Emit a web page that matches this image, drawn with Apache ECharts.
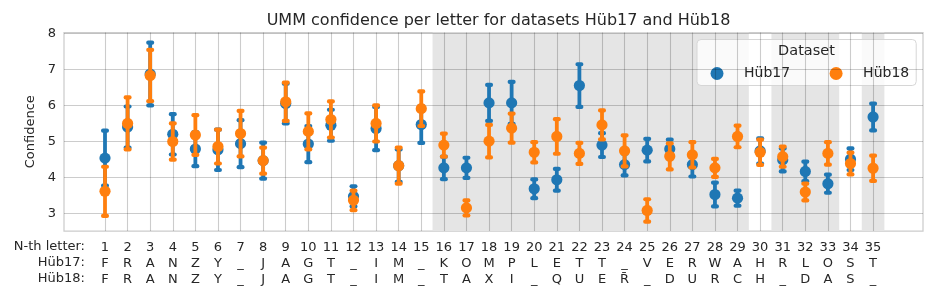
<!DOCTYPE html>
<html>
<head>
<meta charset="utf-8">
<script src="https://cdn.jsdelivr.net/npm/echarts@6/dist/echarts.min.js"></script>
<style>html,body{margin:0;padding:0;background:#fff}#c{width:934px;height:296px}</style>
</head>
<body>
<div id="c"></div>
<script>
const positions = [1,2,3,4,5,6,7,8,9,10,11,12,13,14,15,16,17,18,19,20,21,22,23,24,25,26,27,28,29,30,31,32,33,34,35];
const hub17Letters = ['F','R','A','N','Z','Y','_','J','A','G','T','_','I','M','_','K','O','M','P','L','E','T','T','_','V','E','R','W','A','H','R','L','O','S','T'];
const hub18Letters = ['F','R','A','N','Z','Y','_','J','A','G','T','_','I','M','_','T','A','X','I','_','Q','U','E','R\u0304','_','D','U','R','C','H','_','D','A','S','_'];
const hub17Mean = [4.54,5.40,6.87,5.20,4.79,4.77,4.94,4.47,6.05,4.93,5.45,3.48,5.36,4.33,5.47,4.27,4.27,6.07,6.07,3.69,3.94,6.55,4.90,4.36,4.76,4.79,4.36,3.53,3.43,4.74,4.49,4.17,3.83,4.51,5.68];
const hub17Err  = [0.76,0.57,0.87,0.56,0.47,0.56,0.65,0.50,0.55,0.50,0.43,0.28,0.60,0.45,0.51,0.31,0.28,0.50,0.58,0.26,0.30,0.59,0.33,0.30,0.31,0.26,0.33,0.33,0.21,0.35,0.32,0.27,0.25,0.30,0.37];
const hub18Mean = [3.62,5.50,6.83,5.00,5.18,4.86,5.22,4.47,6.10,5.28,5.61,3.37,5.50,4.33,5.91,4.90,3.16,5.01,5.37,4.70,5.14,4.67,5.46,4.74,3.09,4.59,4.63,4.27,5.14,4.70,4.58,3.60,4.67,4.39,4.26];
const hub18Err  = [0.68,0.72,0.71,0.50,0.55,0.47,0.63,0.36,0.53,0.50,0.50,0.27,0.50,0.50,0.48,0.32,0.21,0.45,0.40,0.28,0.48,0.29,0.40,0.43,0.31,0.36,0.35,0.25,0.30,0.35,0.28,0.23,0.31,0.30,0.35];
const yTicks = [3,4,5,6,7,8];
const seriesNames = ['Hüb17','Hüb18'];
const rowLabels = ['N-th letter:','Hüb17:','Hüb18:'];

// shaded ranges where letters differ
const bands = [];
let start = null;
positions.forEach((p,i) => {
  const diff = hub17Letters[i] !== hub18Letters[i];
  if (diff && start === null) start = p;
  if (!diff && start !== null) { bands.push([start, positions[i-1]]); start = null; }
});
if (start !== null) bands.push([start, positions[positions.length-1]]);

const textColor = '#262626';
const colors = ['#1f77b4','#ff7f0e'];

function renderErr(params, api) {
  const x = api.value(0), m = api.value(1), e = api.value(2);
  const t = api.coord([x, m + e]);
  const b = api.coord([x, m - e]);
  const c = api.coord([x, m]);
  const col = api.visual('color');
  const bw = 3.8, cw = 8, ch = 4.2;
  return {type:'group', children:[
    {type:'rect', shape:{x:c[0]-bw/2, y:t[1], width:bw, height:b[1]-t[1]}, style:{fill:col}},
    {type:'rect', shape:{x:t[0]-cw/2, y:t[1]-ch/2, width:cw, height:ch, r:2}, style:{fill:col}},
    {type:'rect', shape:{x:b[0]-cw/2, y:b[1]-ch/2, width:cw, height:ch, r:2}, style:{fill:col}},
    {type:'circle', shape:{cx:c[0], cy:c[1], r:5.6}, style:{fill:col}}
  ]};
}

const chart = echarts.init(document.getElementById('c'), null, {renderer:'canvas'});
chart.setOption({
  animation:false,
  title:{text:'UMM confidence per letter for datasets Hüb17 and Hüb18', left:493.5, top:8, textAlign:'center',
    textStyle:{fontFamily:'DejaVu Sans', fontSize:16, fontWeight:'normal', color:textColor}},
  grid:{left:64, right:11, top:32.5, bottom:65, show:true, borderColor:'#cccccc', borderWidth:1.25, backgroundColor:'transparent'},
  xAxis:{type:'value', min:-0.815, max:37.21,
    axisLine:{show:false}, axisTick:{show:false}, splitLine:{show:false},
    axisLabel:{customValues:positions, margin:9, fontFamily:'DejaVu Sans', fontSize:13, lineHeight:16, color:textColor, verticalAlign:'top',
      formatter:(v)=>{const i=positions.indexOf(v); return i<0?'':(v+'\n'+hub17Letters[i]+'\n'+hub18Letters[i]);}}},
  yAxis:{type:'value', min:2.52, max:8.02,
    name:'Confidence', nameLocation:'middle', nameGap:22, nameTextStyle:{fontFamily:'DejaVu Sans', fontSize:13, color:textColor},
    axisLine:{show:false}, axisTick:{show:false}, splitLine:{show:false},
    axisLabel:{customValues:yTicks, margin:8, fontFamily:'DejaVu Sans', fontSize:13, color:textColor}},
  legend:{data:seriesNames, left:697, top:39.5, orient:'horizontal', icon:'circle', itemWidth:13, itemHeight:13, itemGap:39.5,
    padding:[27,7,5,13.5], backgroundColor:'rgba(255,255,255,0.8)', borderColor:'#d6d6d6', borderWidth:1, borderRadius:4,
    textStyle:{fontFamily:'DejaVu Sans', fontSize:14, color:textColor, padding:[0,0,0,15.5]}},
  graphic:[
    {type:'text', x:806.5, y:51.7, z:100, style:{text:'Dataset', fontFamily:'DejaVu Sans', fontSize:14.5, fill:textColor, textAlign:'center', textVerticalAlign:'middle'}},
    ...rowLabels.map((t,i)=>({type:'text', x:85, y:246.5 + i*16, z:100, style:{text:t, fontFamily:'DejaVu Sans', fontSize:13, fill:textColor, textAlign:'right', textVerticalAlign:'middle'}}))
  ],
  series:[
    {type:'line', name:'_bands', data:[], z:1, silent:true,
      markArea:{silent:true, itemStyle:{color:'#e5e5e5'}, data:bands.map(b=>[{xAxis:b[0]-0.5},{xAxis:b[1]+0.5}])}},
    {type:'line', name:'_grid', data:[], z:2, silent:true,
      markLine:{silent:true, symbol:['none','none'], label:{show:false}, lineStyle:{color:'rgba(0,0,0,0.2)', type:'solid', width:1.1},
        data:[...positions.map(v=>({xAxis:v})), ...yTicks.map(v=>({yAxis:v}))]}},
    {type:'custom', name:seriesNames[0], z:5, itemStyle:{color:colors[0]}, renderItem:renderErr,
      encode:{x:0,y:1}, data:positions.map((p,i)=>[p, hub17Mean[i], hub17Err[i]])},
    {type:'custom', name:seriesNames[1], z:6, itemStyle:{color:colors[1]}, renderItem:renderErr,
      encode:{x:0,y:1}, data:positions.map((p,i)=>[p, hub18Mean[i], hub18Err[i]])}
  ]
});
</script>
</body>
</html>
